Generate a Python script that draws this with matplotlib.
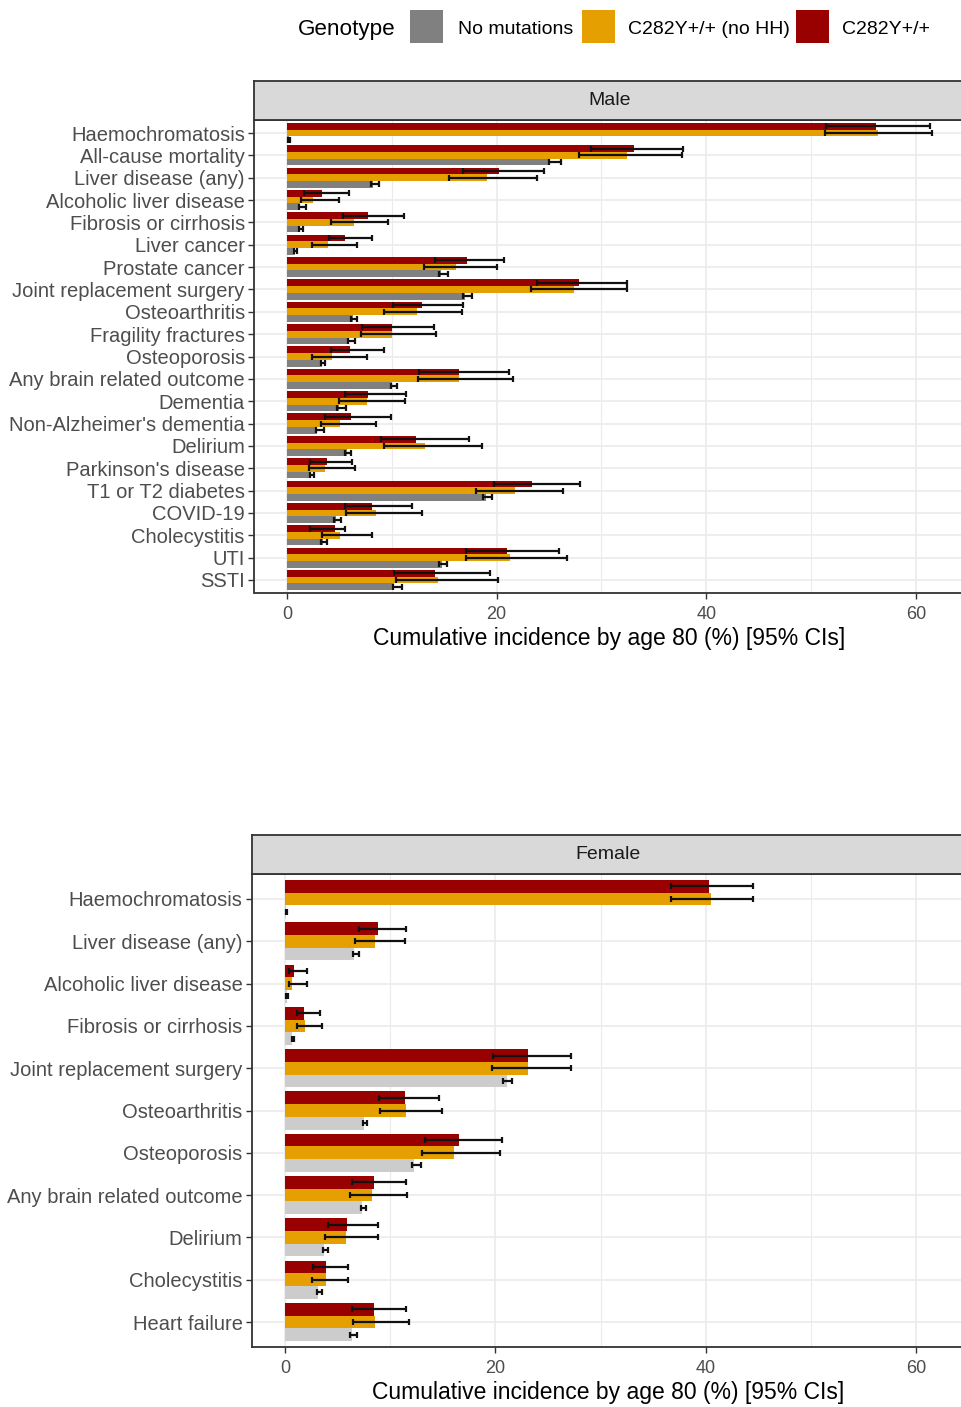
import matplotlib
matplotlib.use("Agg")
import matplotlib.pyplot as plt
from matplotlib.patches import Rectangle
import numpy as np

# ---------------- data ----------------
genotypes = ["No mutations", "C282Y+/+ (no HH)", "C282Y+/+"]

male_categories = ["Haemochromatosis", "All-cause mortality", "Liver disease (any)",
                   "Alcoholic liver disease", "Fibrosis or cirrhosis", "Liver cancer",
                   "Prostate cancer", "Joint replacement surgery", "Osteoarthritis",
                   "Fragility fractures", "Osteoporosis", "Any brain related outcome",
                   "Dementia", "Non-Alzheimer's dementia", "Delirium", "Parkinson's disease",
                   "T1 or T2 diabetes", "COVID-19", "Cholecystitis", "UTI", "SSTI"]

male_hom = [56.2, 33.1, 20.2, 3.3, 7.7, 5.5, 17.2, 27.9, 12.9, 10.0, 6.0, 16.4, 7.7, 6.1, 12.3, 3.8, 23.4, 8.1, 4.6, 21.0, 14.1]
male_hom_lo = [51.4, 29.0, 16.8, 1.6, 5.3, 4.0, 14.1, 23.9, 10.1, 7.2, 4.2, 12.6, 5.5, 3.6, 9.0, 2.2, 19.8, 5.5, 2.2, 17.1, 10.2]
male_hom_hi = [61.4, 37.8, 24.5, 5.9, 11.2, 8.1, 20.7, 32.4, 16.8, 14.0, 9.3, 21.2, 11.4, 9.9, 17.4, 6.2, 28.0, 11.9, 5.5, 26.0, 19.4]

male_nohh = [56.4, 32.4, 19.1, 2.5, 6.4, 3.9, 16.1, 27.4, 12.4, 10.0, 4.3, 16.4, 7.6, 5.1, 13.2, 3.6, 21.8, 8.5, 5.1, 21.3, 14.4]
male_nohh_lo = [51.3, 27.9, 15.5, 1.3, 4.2, 2.4, 13.1, 23.3, 9.3, 7.1, 2.4, 12.5, 5.0, 3.2, 9.3, 2.1, 18.0, 5.6, 3.3, 17.1, 10.4]
male_nohh_hi = [61.5, 37.7, 23.9, 5.0, 9.6, 6.7, 20.0, 32.4, 16.7, 14.2, 7.6, 21.6, 11.3, 8.5, 18.6, 6.5, 26.3, 12.9, 8.1, 26.7, 20.1]

male_none = [0.15, 25.1, 8.2, 1.2, 1.2, 0.8, 14.7, 17.0, 6.3, 5.9, 3.3, 10.0, 5.0, 2.9, 5.7, 2.3, 19.0, 4.7, 3.4, 14.8, 10.2]
male_none_lo = [0.1, 25.0, 8.05, 1.1, 1.1, 0.65, 14.5, 16.8, 6.1, 5.8, 3.2, 9.9, 4.8, 2.8, 5.5, 2.2, 18.7, 4.5, 3.2, 14.5, 10.1]
male_none_hi = [0.3, 26.1, 8.8, 1.8, 1.5, 1.0, 15.4, 17.7, 6.7, 6.5, 3.6, 10.5, 5.6, 3.5, 6.1, 2.6, 19.6, 5.2, 3.8, 15.3, 11.0]

female_categories = ["Haemochromatosis", "Liver disease (any)", "Alcoholic liver disease",
                     "Fibrosis or cirrhosis", "Joint replacement surgery", "Osteoarthritis",
                     "Osteoporosis", "Any brain related outcome", "Delirium", "Cholecystitis",
                     "Heart failure"]

female_hom = [40.3, 8.8, 0.86, 1.8, 23.1, 11.4, 16.5, 8.5, 5.9, 3.9, 8.5]
female_hom_lo = [36.7, 7.0, 0.4, 1.1, 19.8, 8.9, 13.3, 6.4, 4.1, 2.7, 6.4]
female_hom_hi = [44.5, 11.5, 2.1, 3.3, 27.2, 14.6, 20.6, 11.5, 8.8, 6.0, 11.5]

female_nohh = [40.5, 8.6, 0.7, 1.9, 23.1, 11.5, 16.1, 8.3, 5.8, 3.9, 8.6]
female_nohh_lo = [36.7, 6.7, 0.35, 1.1, 19.7, 9.0, 13.0, 6.2, 3.8, 2.6, 6.5]
female_nohh_hi = [44.5, 11.4, 2.1, 3.5, 27.2, 14.9, 20.4, 11.6, 8.8, 6.0, 11.8]

female_none = [0.1, 6.6, 0.17, 0.7, 21.1, 7.5, 12.3, 7.3, 3.7, 3.1, 6.4]
female_none_lo = [0.05, 6.5, 0.12, 0.65, 20.7, 7.4, 12.1, 7.2, 3.65, 3.0, 6.2]
female_none_hi = [0.2, 7.0, 0.3, 0.9, 21.6, 7.8, 12.9, 7.7, 4.1, 3.5, 6.8]

x_ticks = [0, 20, 40, 60]
x_title = "Cumulative incidence by age 80 (%) [95% CIs]"

# ---------------- style ----------------
RED = "#990000"
YEL = "#E69F00"
GRAY_M = "#808080"
GRAY_F = "#CCCCCC"
DARK = "#333333"
GRID = "#EBEBEB"
plt.rcParams['font.family'] = ['Liberation Sans', 'DejaVu Sans']

W, H = 962, 1407
fig = plt.figure(figsize=(W / 100, H / 100), dpi=100)


def rect(left, right, top, bottom):
    return [left / W, 1 - bottom / H, (right - left) / W, (bottom - top) / H]


def panel(ax_rect, strip_rect, title, cats, series, gray_col, bw_err=1.6):
    ax = fig.add_axes(ax_rect)
    n = len(cats)
    pos = np.arange(n)
    bh = 0.3
    offsets = [0.3, 0.0, -0.3]  # none (bottom), no HH (middle), hom (top)
    colors = [gray_col, YEL, RED]
    for (vals, lo, hi), off, col in zip(series, offsets, colors):
        vals = np.array(vals); lo = np.array(lo); hi = np.array(hi)
        ax.barh(pos + off, vals, height=bh, color=col, edgecolor='none', zorder=2)
        ax.errorbar(vals, pos + off, xerr=[vals - lo, hi - vals], fmt='none',
                    ecolor='#111111', elinewidth=bw_err, capsize=2.2, capthick=bw_err, zorder=3)
    ax.set_xlim(-3.1, 64.6)
    ax.set_ylim(n - 1 + 0.6, -0.6)
    ax.set_yticks(pos)
    ax.set_yticklabels(cats, fontsize=14.5, color="#4D4D4D")
    ax.set_xticks(x_ticks)
    ax.set_xticklabels([str(t) for t in x_ticks], fontsize=13, color="#4D4D4D")
    ax.set_xticks([10, 30, 50], minor=True)
    ax.tick_params(axis='both', which='major', length=4, width=1, color=DARK, pad=3)
    ax.tick_params(axis='x', which='major', pad=5)
    ax.tick_params(axis='x', which='minor', length=0)
    ax.grid(True, which='major', color=GRID, linewidth=1.2, zorder=0)
    ax.grid(True, which='minor', axis='x', color=GRID, linewidth=0.8, zorder=0)
    ax.set_axisbelow(True)
    for s in ax.spines.values():
        s.set_color(DARK)
        s.set_linewidth(1.3)
    ax.set_xlabel(x_title, fontsize=16.5, color='black', labelpad=3)
    sax = fig.add_axes(strip_rect)
    sax.set_facecolor("#D9D9D9")
    sax.set_xticks([]); sax.set_yticks([])
    for s in sax.spines.values():
        s.set_color(DARK)
        s.set_linewidth(1.3)
    sax.text(0.5, 0.5, title, ha='center', va='center', fontsize=14, color="#1A1A1A",
             transform=sax.transAxes)
    return ax


male_series = [(male_none, male_none_lo, male_none_hi),
               (male_nohh, male_nohh_lo, male_nohh_hi),
               (male_hom, male_hom_lo, male_hom_hi)]
female_series = [(female_none, female_none_lo, female_none_hi),
                 (female_nohh, female_nohh_lo, female_nohh_hi),
                 (female_hom, female_hom_lo, female_hom_hi)]

panel(rect(254.5, 964, 119.6, 593.4), rect(254.5, 964, 81, 119.6), "Male",
      male_categories, male_series, GRAY_M)
panel(rect(252.4, 964.4, 873.6, 1347.4), rect(252.4, 964.4, 835, 873.6), "Female",
      female_categories, female_series, GRAY_F)

# ---------------- legend ----------------
fig.text(298 / W, 1 - 30 / H, "Genotype", fontsize=16.2, ha='left', va='center', color='black')
legend_colors = [GRAY_M, YEL, RED]
key_x = [410, 582, 796]
lab_x = [458, 628, 842]
for kx, lx, col, lab in zip(key_x, lab_x, legend_colors, genotypes):
    fig.add_artist(Rectangle((kx / W, 1 - 43 / H), 33 / W, 33 / H, transform=fig.transFigure,
                             facecolor=col, edgecolor='none'))
    fig.text(lx / W, 1 - 29 / H, lab, fontsize=14, ha='left', va='center', color='black')

fig.savefig("out.png", dpi=100)
